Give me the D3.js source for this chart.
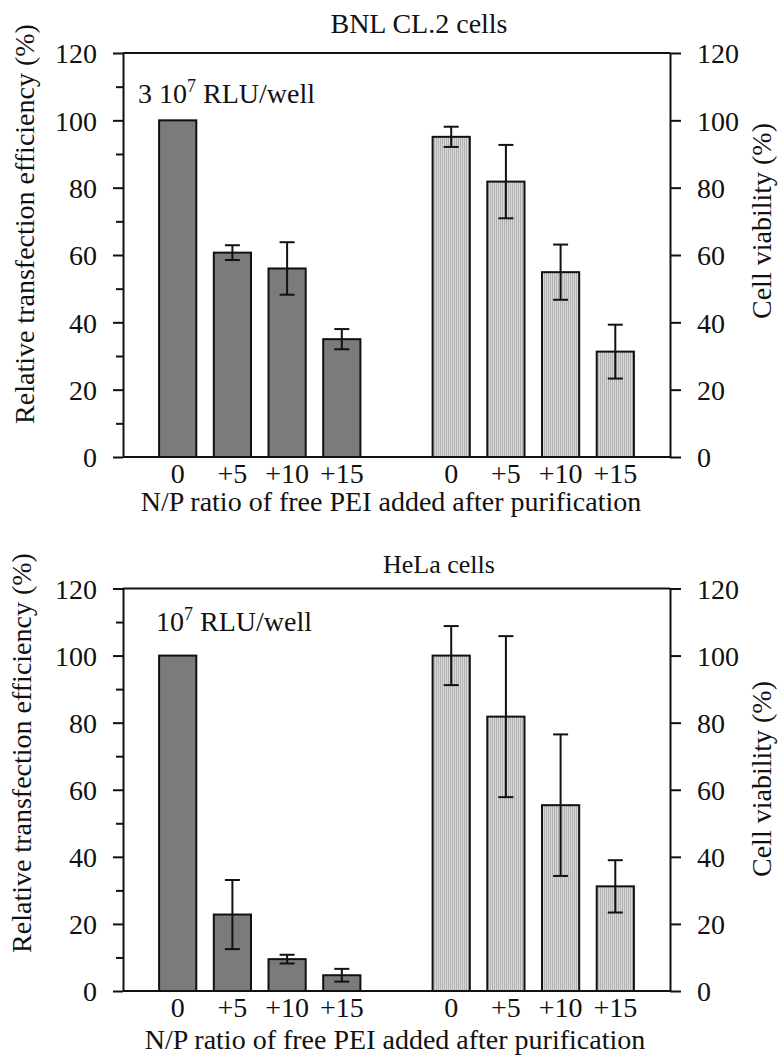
<!DOCTYPE html>
<html>
<head>
<meta charset="utf-8">
<script src="https://cdn.jsdelivr.net/npm/d3@7"></script>
<style>
  html, body { margin: 0; padding: 0; background: #fff; }
  svg { display: block; }
  text { font-family: "Liberation Serif", "Times New Roman", Times, serif; fill: #111; }
</style>
</head>
<body>
<svg id="chart" width="780" height="1057"></svg>
<script>
// N/P ratio of free PEI added after purification
const categories = ["0", "+5", "+10", "+15"];

// BNL CL.2 cells
const bnlTransfection = [100, 60.7, 56.0, 35.0];
const bnlTransfectionErr = [null, 2.2, 7.8, 3.0];
const bnlViability = [95.1, 81.8, 54.9, 31.3];
const bnlViabilityErr = [3.0, 10.9, 8.2, 8.0];

// HeLa cells
const helaTransfection = [100, 22.8, 9.5, 4.7];
const helaTransfectionErr = [null, 10.3, 1.3, 1.9];
const helaViability = [100, 81.8, 55.4, 31.2];
const helaViabilityErr = [8.8, 24.0, 21.1, 7.8];

// axis ticks (%)
const yTicks = [0, 20, 40, 60, 80, 100, 120];
const yMinorTicks = [10, 30, 50, 70, 90, 110];

const panelTitles = ["BNL CL.2 cells", "HeLa cells"];
const doseMain = ["3 10", "10"];
const doseExp = "7";
const doseUnit = " RLU/well";
const xTitle = "N/P ratio of free PEI added after purification";
const yLeftTitle = "Relative transfection efficiency (%)";
const yRightTitle = "Cell viability (%)";

const svg = d3.select("#chart");

// fine vertical stipple used for the viability bars
const defs = svg.append("defs");
const pat = defs.append("pattern")
  .attr("id", "stipple")
  .attr("patternUnits", "userSpaceOnUse")
  .attr("width", 2).attr("height", 2);
pat.append("rect").attr("width", 2).attr("height", 2).attr("fill", "#d8d8d8");
pat.append("rect").attr("width", 1).attr("height", 2).attr("fill", "#b2b2b2");

const panels = [
  {
    title: panelTitles[0], titleX: 419, titleY: 33, titleSize: 28,
    doseMain: doseMain[0], doseX: 138, doseY: 103,
    top: 53, bottom: 457,
    transfection: bnlTransfection, transfectionErr: bnlTransfectionErr,
    viability: bnlViability, viabilityErr: bnlViabilityErr,
    xTitleX: 391, xTitleY: 511,
    leftTitleX: 34, leftTitleY: 224,
    rightTitleX: 771, rightTitleY: 221
  },
  {
    title: panelTitles[1], titleX: 439, titleY: 573, titleSize: 26,
    doseMain: doseMain[1], doseX: 156, doseY: 631,
    top: 588.5, bottom: 991,
    transfection: helaTransfection, transfectionErr: helaTransfectionErr,
    viability: helaViability, viabilityErr: helaViabilityErr,
    xTitleX: 395, xTitleY: 1049,
    leftTitleX: 31, leftTitleY: 753,
    rightTitleX: 771, rightTitleY: 779
  }
];

const left = 123, right = 670;
// ten equal slots across the frame: transfection bars in slots 1-4, viability in 6-9
const slot = d3.scaleLinear().domain([0, 10]).range([left, right]);
const step = slot(1) - slot(0);
const barW = step * 0.68;
const capW = 15;

panels.forEach(p => {
  const g = svg.append("g");
  const yL = d3.scaleLinear().domain([0, 120]).range([p.bottom, p.top]);
  const yR = d3.scaleLinear().domain([0, 120]).range([p.bottom, p.top]);

  // frame top edge
  g.append("line")
    .attr("x1", left).attr("x2", right)
    .attr("y1", p.top).attr("y2", p.top)
    .attr("stroke", "#111").attr("stroke-width", 2);

  // bars
  const series = [
    { vals: p.transfection, errs: p.transfectionErr, y: yL, offset: 1, fill: "#7b7b7b" },
    { vals: p.viability, errs: p.viabilityErr, y: yR, offset: 6, fill: "url(#stipple)" }
  ];
  series.forEach(s => {
    const rows = categories.map((c, i) => ({ c, i, v: s.vals[i], e: s.errs[i] }));
    g.selectAll(null).data(rows).enter().append("rect")
      .attr("x", d => slot(d.i + s.offset) - barW / 2)
      .attr("width", barW)
      .attr("y", d => s.y(d.v))
      .attr("height", d => s.y(0) - s.y(d.v))
      .attr("fill", s.fill)
      .attr("stroke", "#111").attr("stroke-width", 2);

    const eb = rows.filter(d => d.e != null);
    const eg = g.selectAll(null).data(eb).enter().append("g")
      .attr("stroke", "#111").attr("stroke-width", 2);
    eg.append("line")
      .attr("x1", d => slot(d.i + s.offset)).attr("x2", d => slot(d.i + s.offset))
      .attr("y1", d => s.y(d.v + d.e)).attr("y2", d => s.y(d.v - d.e));
    eg.append("line")
      .attr("x1", d => slot(d.i + s.offset) - capW / 2).attr("x2", d => slot(d.i + s.offset) + capW / 2)
      .attr("y1", d => s.y(d.v + d.e)).attr("y2", d => s.y(d.v + d.e));
    eg.append("line")
      .attr("x1", d => slot(d.i + s.offset) - capW / 2).attr("x2", d => slot(d.i + s.offset) + capW / 2)
      .attr("y1", d => s.y(d.v - d.e)).attr("y2", d => s.y(d.v - d.e));

    // category labels under the baseline
    g.selectAll(null).data(rows).enter().append("text")
      .attr("x", d => slot(d.i + s.offset))
      .attr("y", p.bottom + 26)
      .attr("text-anchor", "middle")
      .attr("font-size", 28)
      .text(d => d.c);
  });

  // left axis: major + minor ticks
  const axL = g.append("g").attr("transform", `translate(${left},0)`)
    .call(d3.axisLeft(yL).tickValues(yTicks).tickSize(10).tickPadding(16).tickSizeOuter(0));
  const axLm = g.append("g").attr("transform", `translate(${left},0)`)
    .call(d3.axisLeft(yL).tickValues(yMinorTicks).tickSize(7).tickFormat("").tickSizeOuter(0));
  axLm.select(".domain").remove();

  // right axis
  const axR = g.append("g").attr("transform", `translate(${right},0)`)
    .call(d3.axisRight(yR).tickValues(yTicks).tickSize(11).tickPadding(16).tickSizeOuter(0));

  [axL, axLm, axR].forEach(a => {
    a.attr("font-family", null);
    a.selectAll("line").attr("stroke", "#111").attr("stroke-width", 2);
    a.selectAll(".domain").attr("stroke", "#111").attr("stroke-width", 2);
    a.selectAll("text")
      .attr("font-size", 28)
      .attr("fill", "#111")
      .attr("dy", "0.35em");
  });

  // baseline
  g.append("line")
    .attr("x1", left).attr("x2", right)
    .attr("y1", p.bottom).attr("y2", p.bottom)
    .attr("stroke", "#111").attr("stroke-width", 2);

  // panel title
  g.append("text")
    .attr("x", p.titleX).attr("y", p.titleY)
    .attr("text-anchor", "middle")
    .attr("font-size", p.titleSize)
    .text(p.title);

  // luciferase level annotation
  const dose = g.append("text")
    .attr("x", p.doseX).attr("y", p.doseY)
    .attr("font-size", 28);
  dose.append("tspan").text(p.doseMain);
  dose.append("tspan").attr("font-size", 18).attr("dy", -11).text(doseExp);
  dose.append("tspan").attr("dy", 11).text(doseUnit);

  // axis titles
  g.append("text")
    .attr("x", p.xTitleX).attr("y", p.xTitleY)
    .attr("text-anchor", "middle")
    .attr("font-size", 28)
    .text(xTitle);
  g.append("text")
    .attr("transform", `translate(${p.leftTitleX},${p.leftTitleY}) rotate(-90)`)
    .attr("text-anchor", "middle")
    .attr("font-size", 28)
    .text(yLeftTitle);
  g.append("text")
    .attr("transform", `translate(${p.rightTitleX},${p.rightTitleY}) rotate(-90)`)
    .attr("text-anchor", "middle")
    .attr("font-size", 28)
    .text(yRightTitle);
});
</script>
</body>
</html>
